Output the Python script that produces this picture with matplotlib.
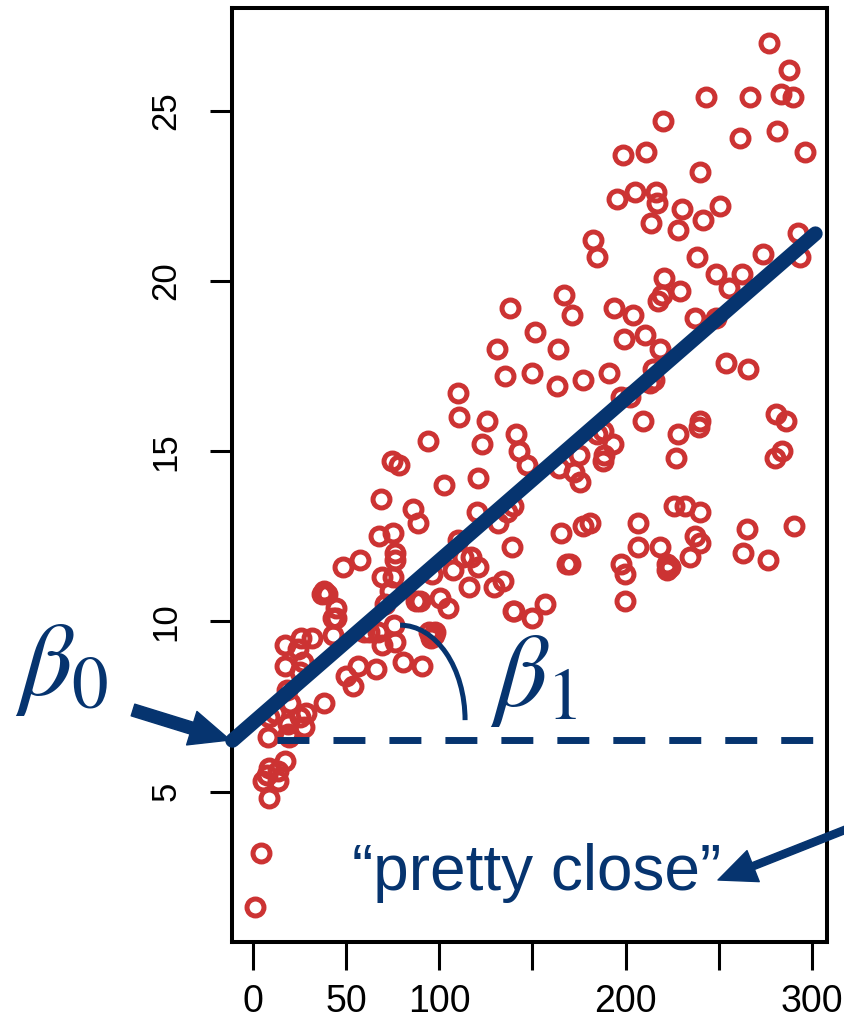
import matplotlib
matplotlib.use('Agg')
import matplotlib.pyplot as plt
import numpy as np
from matplotlib.patches import Arc

# Advertising: TV budget vs Sales
tv = [230.1, 44.5, 17.2, 151.5, 180.8, 8.7, 57.5, 120.2, 8.6, 199.8,
      66.1, 214.7, 23.8, 97.5, 204.1, 195.4, 67.8, 281.4, 69.2, 147.3,
      218.4, 237.4, 13.2, 228.3, 62.3, 262.9, 142.9, 240.1, 248.8, 70.6,
      292.9, 112.9, 97.2, 265.6, 95.7, 290.7, 266.9, 74.7, 43.1, 228.0,
      202.5, 177.0, 293.6, 206.9, 25.1, 175.1, 89.7, 239.9, 227.2, 66.9,
      199.8, 100.4, 216.4, 182.6, 262.7, 198.9, 7.3, 136.2, 210.8, 210.7,
      53.5, 261.3, 239.3, 102.7, 131.1, 69.0, 31.5, 139.3, 237.4, 216.8,
      199.1, 109.8, 26.8, 129.4, 213.4, 16.9, 27.5, 120.5, 5.4, 116.0,
      76.4, 239.8, 75.3, 68.4, 213.5, 193.2, 76.3, 110.7, 88.3, 109.8,
      134.3, 28.6, 217.7, 250.9, 107.4, 163.3, 197.6, 184.9, 289.7, 135.2,
      222.4, 296.4, 280.2, 187.9, 238.2, 137.9, 25.0, 90.4, 13.1, 255.4,
      225.8, 241.7, 175.7, 209.6, 78.2, 75.1, 139.2, 76.4, 125.7, 19.4,
      141.3, 18.8, 224.0, 123.1, 229.5, 87.2, 7.8, 80.2, 220.3, 59.6,
      0.7, 265.2, 8.4, 219.8, 36.9, 48.3, 25.6, 273.7, 43.0, 184.9,
      73.4, 193.7, 220.5, 104.6, 96.2, 140.3, 240.1, 243.2, 38.0, 44.7,
      280.7, 121.0, 197.6, 171.3, 187.8, 4.1, 93.9, 149.8, 11.7, 131.7,
      172.5, 85.7, 188.4, 163.5, 117.2, 234.5, 17.9, 206.8, 215.4, 284.3,
      50.0, 164.5, 19.6, 168.4, 222.4, 276.9, 248.4, 170.2, 276.7, 165.6,
      156.6, 218.5, 56.2, 287.6, 253.8, 205.0, 139.5, 191.1, 286.0, 18.7,
      39.5, 75.5, 17.2, 166.8, 149.7, 38.2, 94.2, 177.0, 283.6, 232.1]
sales = [22.1, 10.4, 9.3, 18.5, 12.9, 7.2, 11.8, 13.2, 4.8, 10.6,
         8.6, 17.4, 9.2, 9.7, 19.0, 22.4, 12.5, 24.4, 11.3, 14.6,
         18.0, 12.5, 5.6, 15.5, 9.7, 12.0, 15.0, 15.9, 18.9, 10.5,
         21.4, 11.9, 9.6, 17.4, 9.5, 12.8, 25.4, 14.7, 10.1, 21.5,
         16.6, 17.1, 20.7, 12.9, 8.5, 14.9, 10.6, 23.2, 14.8, 9.7,
         11.4, 10.7, 22.6, 21.2, 20.2, 23.7, 5.5, 13.2, 23.8, 18.4,
         8.1, 24.2, 15.7, 14.0, 18.0, 9.3, 9.5, 13.4, 18.9, 22.3,
         18.3, 12.4, 8.8, 11.0, 17.0, 8.7, 6.9, 14.2, 5.3, 11.0,
         11.8, 12.3, 11.3, 13.6, 21.7, 15.2, 12.0, 16.0, 12.9, 16.7,
         11.2, 7.3, 19.4, 22.2, 11.5, 16.9, 11.7, 15.5, 25.4, 17.2,
         11.7, 23.8, 14.8, 14.7, 20.7, 19.2, 7.2, 8.7, 5.3, 19.8,
         13.4, 21.8, 14.1, 15.9, 14.6, 12.6, 12.2, 9.4, 15.9, 6.6,
         15.5, 7.0, 11.6, 15.2, 19.7, 10.6, 6.6, 8.8, 24.7, 9.7,
         1.6, 12.7, 5.7, 19.6, 10.8, 11.6, 9.5, 20.8, 9.6, 20.7,
         10.9, 19.2, 20.1, 10.4, 11.4, 10.3, 13.2, 25.4, 10.9, 10.1,
         16.1, 11.6, 16.6, 19.0, 15.6, 3.2, 15.3, 10.1, 7.3, 12.9,
         14.4, 13.3, 14.9, 18.0, 11.9, 11.9, 8.0, 12.2, 17.1, 15.0,
         8.4, 14.5, 7.6, 11.7, 11.5, 27.0, 20.2, 11.7, 11.8, 12.6,
         10.5, 12.2, 8.7, 26.2, 17.6, 22.6, 10.3, 17.3, 15.9, 6.7,
         10.8, 9.9, 5.9, 19.6, 17.3, 7.6, 9.7, 12.8, 25.5, 13.4]
x_ticks = [0, 50, 100, 150, 200, 250, 300]
x_labels = ['0', '50', '100', '', '200', '', '300']
y_ticks = [5, 10, 15, 20, 25]

navy = '#06346f'
red = '#cc3333'
W, H = 845, 1025

plt.rcParams['font.family'] = ['Liberation Sans', 'DejaVu Sans']
plt.rcParams['mathtext.fontset'] = 'stix'

fig = plt.figure(figsize=(W / 100, H / 100), dpi=100)
ax = fig.add_axes([232.5 / W, 1 - 942 / H, 594.5 / W, 934 / H])

tv = np.array(tv)
sales = np.array(sales)

# R style 4% axis extension
xr = tv.max() - tv.min()
yr = sales.max() - sales.min()
ax.set_xlim(tv.min() - 0.04 * xr, tv.max() + 0.04 * xr)
ax.set_ylim(sales.min() - 0.04 * yr, sales.max() + 0.04 * yr)

ax.plot(tv, sales, 'o', ms=12.2, mfc='none', mec=red, mew=3.6, zorder=2)

# least squares fit
b1, b0 = np.polyfit(tv, sales, 1)
x0 = ax.get_xlim()[0]
xs = np.array([x0, 302])
ax.plot(xs, b0 + b1 * xs, color=navy, lw=10.5, solid_capstyle='round',
        zorder=4, clip_on=False)

# horizontal reference for the slope
y0 = b0 + b1 * x0
ax.plot([12.8, 300.7], [y0, y0], color=navy, lw=5, dashes=(4.6, 3.46),
        dash_capstyle='butt', zorder=3)
ax.add_patch(Arc((78.9, 7.1), 69.8, 5.58, theta1=0, theta2=90,
                 color=navy, lw=3.6, zorder=3))

for s in ax.spines.values():
    s.set_linewidth(2.9)
ax.set_xticks(x_ticks)
ax.set_xticklabels(x_labels)
ax.set_yticks(y_ticks)
ax.tick_params(axis='x', length=20, width=2.2, pad=10, labelsize=27)
ax.tick_params(axis='y', length=16, width=2.2, pad=20, labelsize=25,
               labelrotation=90)
for lab in ax.get_yticklabels():
    lab.set_va('center')

# annotations
fig.text(15 / W, 1 - 718 / H, r'$\beta_0$', fontsize=75, color=navy,
         ha='left', va='bottom')
fig.text(490 / W, 1 - 729 / H, r'$\beta_1$', fontsize=75, color=navy,
         ha='left', va='bottom')
fig.text(537 / W, 1 - 890 / H, '\u201cpretty close\u201d', fontsize=46,
         color=navy, ha='center', va='baseline')

ax.annotate('', xy=(230, H - 740), xytext=(133, H - 710),
            xycoords='figure pixels', textcoords='figure pixels',
            arrowprops=dict(arrowstyle='simple,head_length=0.72,head_width=0.63,tail_width=0.22',
                            mutation_scale=40, color=navy, shrinkA=0, shrinkB=0),
            annotation_clip=False)
ax.annotate('', xy=(718, H - 880), xytext=(880, H - 816),
            xycoords='figure pixels', textcoords='figure pixels',
            arrowprops=dict(arrowstyle='simple,head_length=0.68,head_width=0.6,tail_width=0.13',
                            mutation_scale=40, color=navy, shrinkA=0, shrinkB=0),
            annotation_clip=False)

fig.savefig('out.png', dpi=100)
